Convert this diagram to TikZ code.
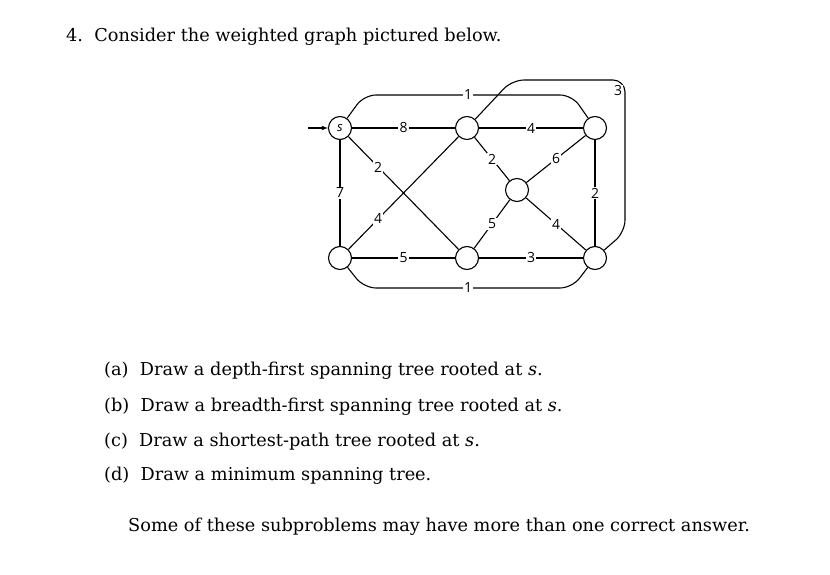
\documentclass[tikz,border=0pt]{standalone}
\usepackage{fontspec}
\setmainfont{DejaVu Serif}
\newfontfamily\lab{Open Sans}
\begin{document}
\begin{tikzpicture}[x=1bp,y=-1bp,
  v/.style={circle,draw,line width=1.1pt,minimum size=23bp,inner sep=0pt,fill=white},
  e/.style={line width=1.1pt},
  w/.style={fill=white,inner sep=1.2bp,font=\lab\fontsize{14}{14}\selectfont},
  txt/.style={anchor=base west,inner sep=0pt,font=\fontsize{17.8}{17.8}\selectfont}]
\useasboundingbox (0,0) rectangle (830,575);
\node[v] (s) at (340,128) {\lab\fontsize{13}{13}\selectfont\itshape s};
\node[v] (tm) at (467,128) {};
\node[v] (tr) at (595,128) {};
\node[v] (c) at (517,190) {};
\node[v] (bl) at (340,258) {};
\node[v] (bm) at (467,258) {};
\node[v] (br) at (595,258) {};
\coordinate (in) at (308,128);
\draw[e,-latex] (in) -- (s);
\begin{scope}[rounded corners=12bp]
\draw[e] (s) -- (364,95) -- (572,95) -- (tr);
\draw[e] (bl) -- (364,288) -- (572,288) -- (br);
\draw[e] (tm) -- (512,80) -- (625,80) -- (625,232) -- (br);
\end{scope}
\node[w] at (468,95) {1};
\node[w] at (468,288) {1};
\node[w] at (618,91) {3};
\draw[e] (s) -- node[w]{8} (tm);
\draw[e] (tm) -- node[w]{4} (tr);
\draw[e] (s) -- node[w]{7} (bl);
\draw[e] (bl) -- node[w]{5} (bm);
\draw[e] (bm) -- node[w]{3} (br);
\draw[e] (tr) -- node[w]{2} (br);
\draw[e] (s) -- node[w,pos=0.27]{2} (bm);
\draw[e] (bl) -- node[w,pos=0.27]{4} (tm);
\draw[e] (tm) -- node[w]{2} (c);
\draw[e] (c) -- node[w]{6} (tr);
\draw[e] (c) -- node[w]{5} (bm);
\draw[e] (c) -- node[w]{4} (br);
\node[txt] at (66,42) {4.\ \ Consider the weighted graph pictured below.};
\node[txt] at (104,375) {(a)\ \ Draw a depth-first spanning tree rooted at \textit{s}.};
\node[txt] at (104,411) {(b)\ \ Draw a breadth-first spanning tree rooted at \textit{s}.};
\node[txt] at (104,446) {(c)\ \ Draw a shortest-path tree rooted at \textit{s}.};
\node[txt] at (104,480) {(d)\ \ Draw a minimum spanning tree.};
\node[txt] at (128,531) {Some of these subproblems may have more than one correct answer.};
\end{tikzpicture}
\end{document}
